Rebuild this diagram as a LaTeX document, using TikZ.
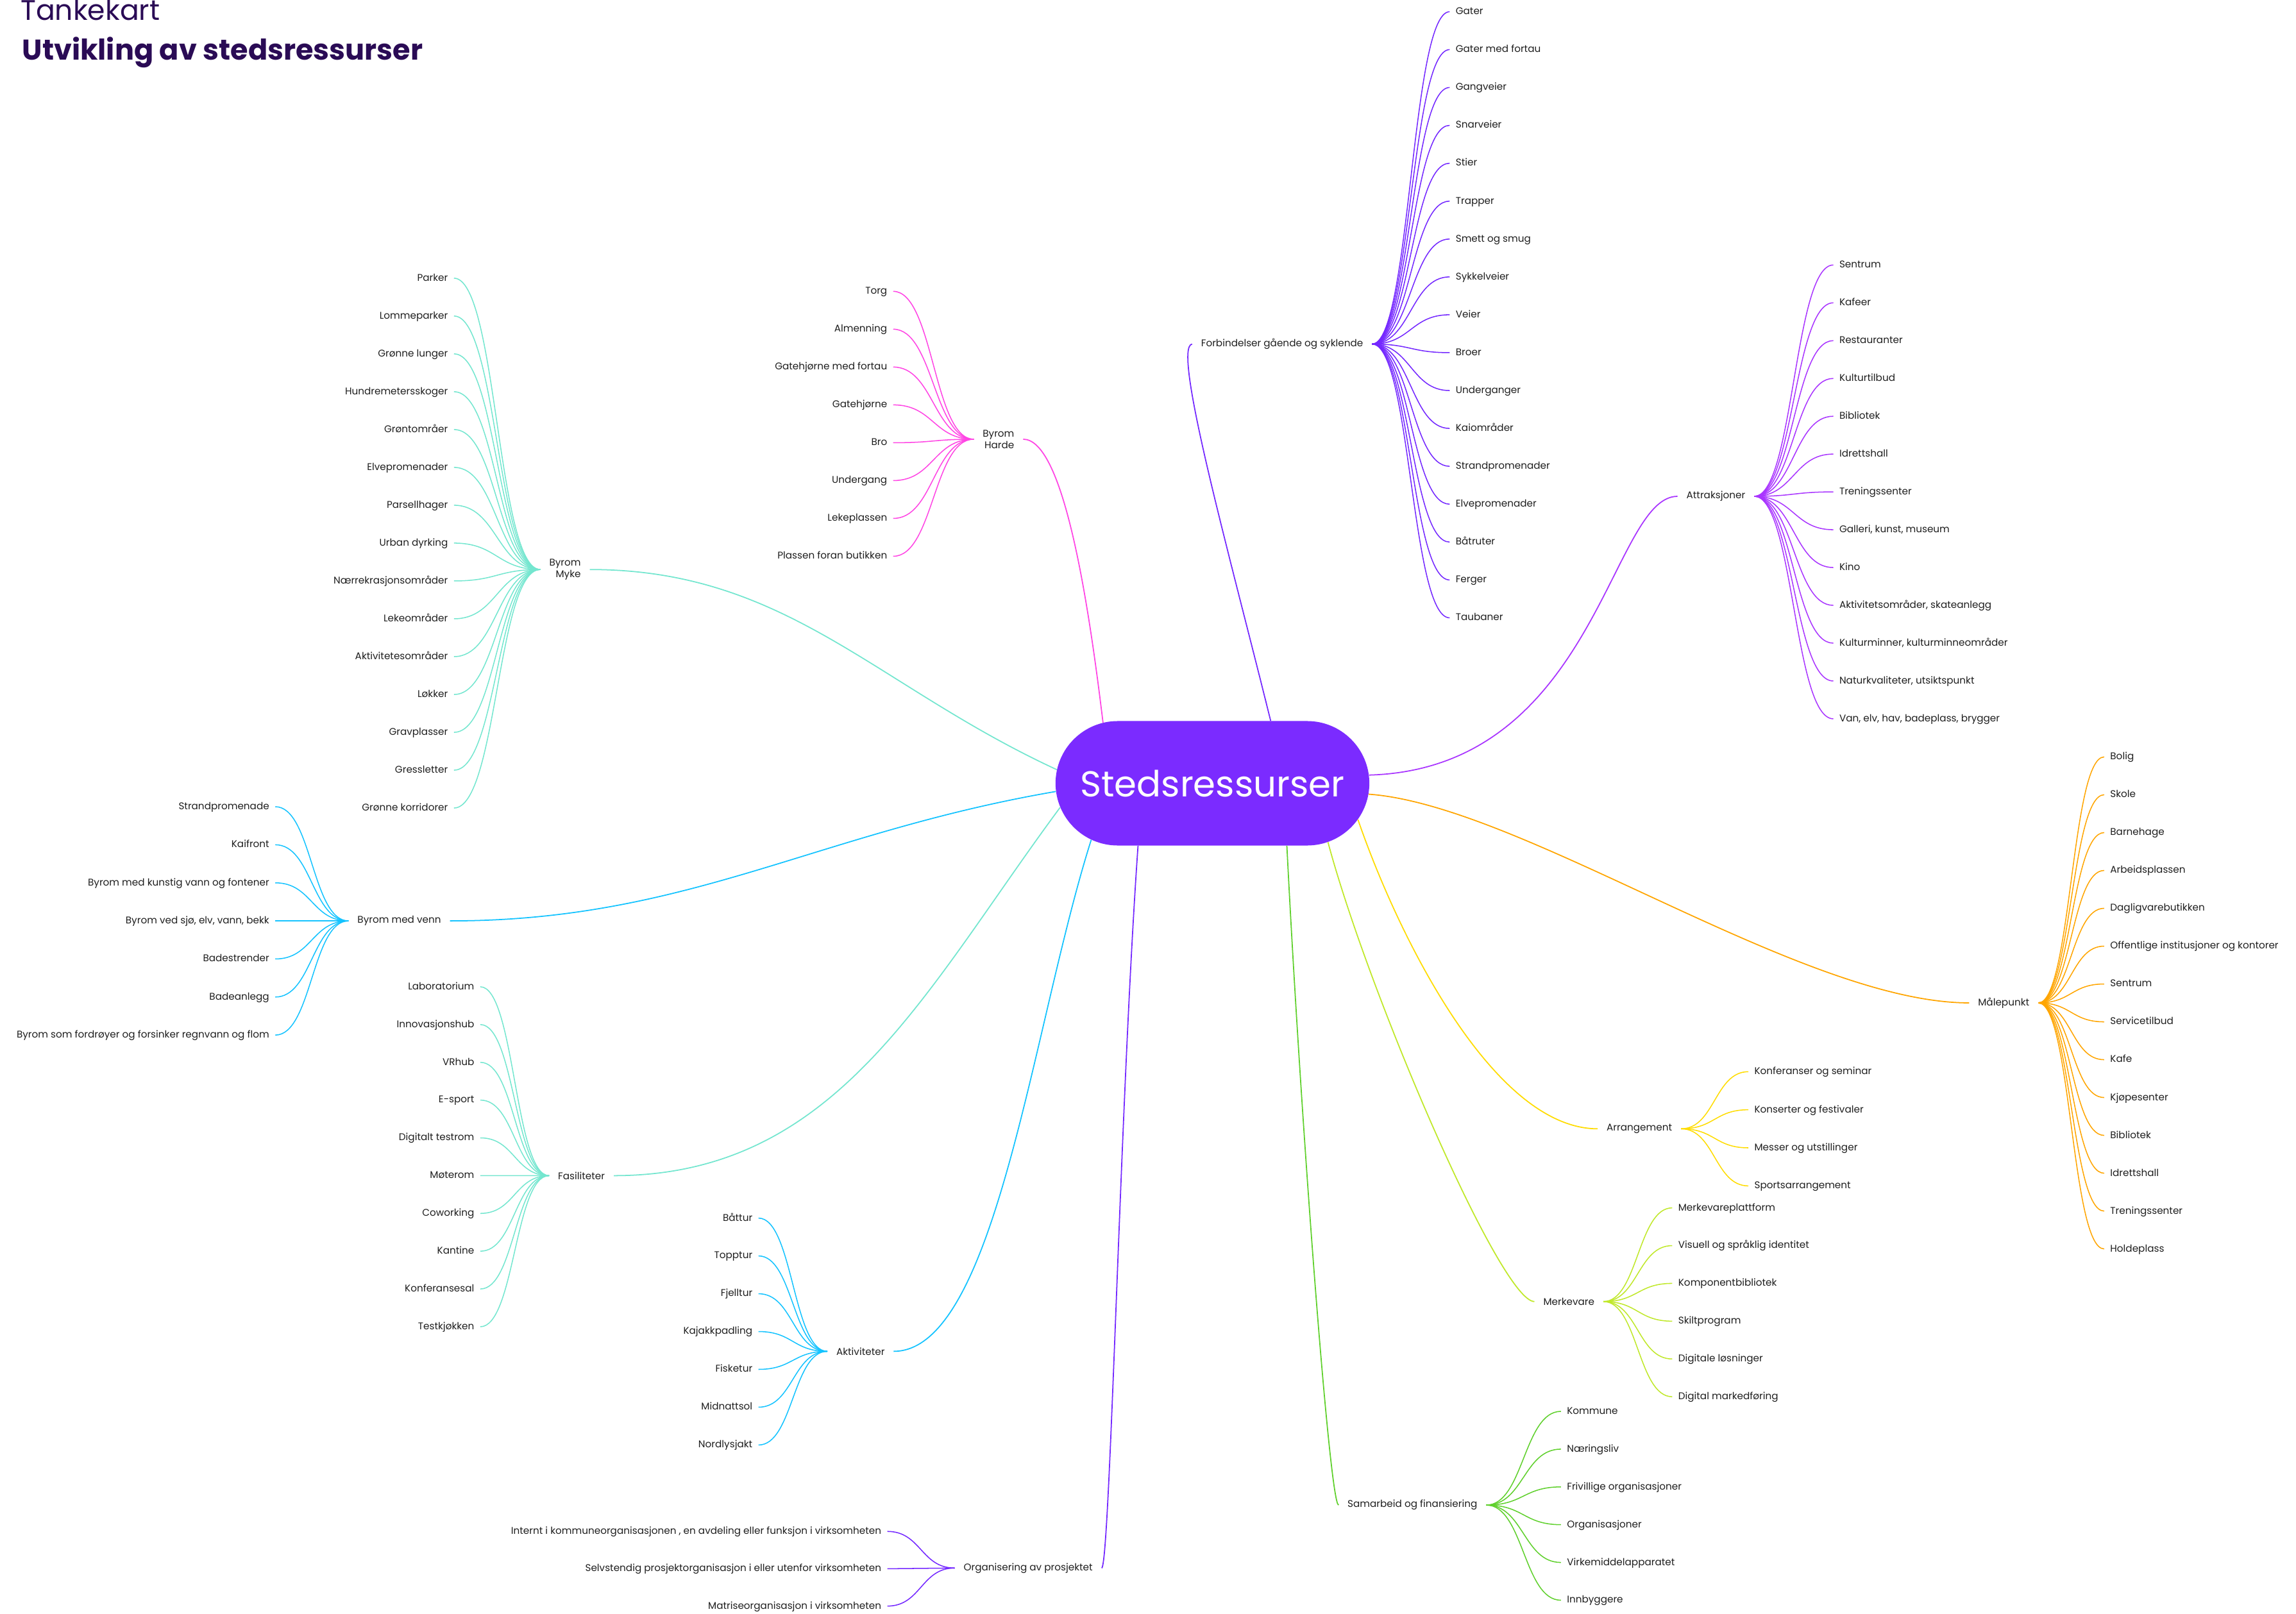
\documentclass[tikz,border=0pt]{standalone}
\usepackage{fontspec}
\setmainfont{Poppins}
\usetikzlibrary{positioning,calc,shapes.misc}
\definecolor{cCore}{HTML}{7B2BFF}
\definecolor{ink}{HTML}{1E1E1E}
\definecolor{titleink}{HTML}{2A0B55}
\definecolor{cMyke}{HTML}{74E6CF}
\definecolor{cHarde}{HTML}{FF45E4}
\definecolor{cForb}{HTML}{7428FF}
\definecolor{cAttr}{HTML}{A935FF}
\definecolor{cMaal}{HTML}{FFA500}
\definecolor{cArr}{HTML}{FFDC00}
\definecolor{cMerke}{HTML}{C0E82A}
\definecolor{cSamar}{HTML}{5FD02C}
\definecolor{cVann}{HTML}{14C3FF}
\tikzset{
  core/.style   = {rounded rectangle, fill=cCore, text=white, minimum width=10.95cm,
                   minimum height=4.25cm, font=\fontsize{35}{40}\selectfont},
  mid/.style    = {font=\fontsize{9.5}{11}\selectfont, text=ink, inner xsep=3mm,
                   inner ysep=1pt, align=center},
  leaf/.style   = {font=\fontsize{9.5}{11}\selectfont, text=ink, inner xsep=2mm,
                   inner ysep=1pt, text height=0.75em, text depth=0.2em},
  branch/.style = {line width=1.1pt},
  twig/.style   = {line width=0.95pt},
  fan/.style    = {to path={let \p1=(\tikztostart), \p2=(\tikztotarget) in
                   .. controls ({0.5*\x1+0.5*\x2},\y1) and ({0.5*\x1+0.5*\x2},\y2) .. (\tikztotarget)}},
  ttl/.style    = {anchor=base west, inner sep=0pt, text=titleink},
}

\begin{document}
\begin{tikzpicture}[x=0.05cm, y=0.05cm]
  \useasboundingbox (0,0) rectangle (1568,-1102);

  % title
  \node[ttl, font=\fontsize{27.5}{32}\selectfont] (kart) at (14,-14) {Tankekart};
  \node[ttl, font=\fontsize{27.8}{32}\selectfont\bfseries] (tema) at (15,-41) {Utvikling av stedsressurser};

  \node[core] (c) at (828,-535) {Stedsressurser};

  % Byrom Myke
  \node[mid, anchor=west, align=right] (myke) at (369,-389) {Byrom\\Myke};
  \foreach \t [count=\i] in {Parker, Lommeparker, Grønne lunger, Hundremetersskoger,
      Grøntområer, Elvepromenader, Parsellhager, Urban dyrking, Nærrekrasjonsområder,
      Lekeområder, Aktivitetesområder, Løkker, Gravplasser, Gressletter, Grønne korridorer}
  {
    \node[leaf, anchor=east] (myke\i) at (310,{-190-25.85*(\i-1)}) {\t};
    \draw[twig, draw=cMyke] (myke.west) to[fan] (myke\i.east);
  }
  \draw[branch, draw=cMyke] (myke.east) .. controls (537,-389) and (597,-468) .. (c.175);

  % Byrom Harde
  \node[mid, anchor=west, align=right] (harde) at (665,-300) {Byrom\\Harde};
  \foreach \t [count=\i] in {Torg, Almenning, Gatehjørne med fortau, Gatehjørne, Bro,
      Undergang, Lekeplassen, Plassen foran butikken}
  {
    \node[leaf, anchor=east] (harde\i) at (610,{-199-25.85*(\i-1)}) {\t};
    \draw[twig, draw=cHarde] (harde.west) to[fan] (harde\i.east);
  }
  \draw[branch, draw=cHarde] (harde.east) .. controls (725,-300) and (742,-400) .. (c.151);

  % Forbindelser
  \node[mid, anchor=east] (forb) at (937,-235) {Forbindelser gående og syklende};
  \foreach \t [count=\i] in {Gater, Gater med fortau, Gangveier, Snarveier, Stier, Trapper,
      Smett og smug, Sykkelveier, Veier, Broer, Underganger, Kaiområder, Strandpromenader,
      Elvepromenader, Båtruter, Ferger, Taubaner}
  {
    \node[leaf, anchor=west] (forb\i) at (990,{-8-25.875*(\i-1)}) {\t};
    \draw[twig, draw=cForb] (forb.east) to[fan] (forb\i.west);
  }
  \draw[branch, draw=cForb] (forb.west) .. controls (800,-237) and (840,-380) .. (c.47);

  % Attraksjoner
  \node[mid, anchor=east] (attr) at (1198,-339) {Attraksjoner};
  \foreach \t [count=\i] in {Sentrum, Kafeer, Restauranter, Kulturtilbud, Bibliotek,
      Idrettshall, Treningssenter, {Galleri, kunst, museum}, Kino,
      {Aktivitetsområder, skateanlegg}, {Kulturminner, kulturminneområder},
      {Naturkvaliteter, utsiktspunkt}, {Van, elv, hav, badeplass, brygger}}
  {
    \node[leaf, anchor=west] (attr\i) at (1252,{-181-25.83*(\i-1)}) {\t};
    \draw[twig, draw=cAttr] (attr.east) to[fan] (attr\i.west);
  }
  \draw[branch, draw=cAttr] (attr.west) .. controls (1100,-339) and (1090,-525) .. (c.3);

  % Maalepunkt
  \node[mid, anchor=east] (maal) at (1392,-685) {Målepunkt};
  \foreach \t [count=\i] in {Bolig, Skole, Barnehage, Arbeidsplassen, Dagligvarebutikken,
      Offentlige institusjoner og kontorer, Sentrum, Servicetilbud, Kafe, Kjøpesenter,
      Bibliotek, Idrettshall, Treningssenter, Holdeplass}
  {
    \node[leaf, anchor=west] (maal\i) at (1437,{-517-25.85*(\i-1)}) {\t};
    \draw[twig, draw=cMaal] (maal.east) to[fan] (maal\i.west);
  }
  \draw[branch, draw=cMaal] (maal.west) .. controls (1230,-685) and (1040,-550) .. (c.356);

  % Arrangement
  \node[mid, anchor=east] (arr) at (1148,-771) {Arrangement};
  \foreach \t [count=\i] in {Konferanser og seminar, Konserter og festivaler,
      Messer og utstillinger, Sportsarrangement}
  {
    \node[leaf, anchor=west] (arr\i) at (1194,{-732-26*(\i-1)}) {\t};
    \draw[twig, draw=cArr] (arr.east) to[fan] (arr\i.west);
  }
  \draw[branch, draw=cArr] (arr.west) .. controls (1020,-771) and (955,-640) .. (c.346);

  % Merkevare
  \node[mid, anchor=east] (merke) at (1095,-889) {Merkevare};
  \foreach \t [count=\i] in {Merkevareplattform, Visuell og språklig identitet,
      Komponentbibliotek, Skiltprogram, Digitale løsninger, Digital markedføring}
  {
    \node[leaf, anchor=west] (merke\i) at (1142,{-825-25.8*(\i-1)}) {\t};
    \draw[twig, draw=cMerke] (merke.east) to[fan] (merke\i.west);
  }
  \draw[branch, draw=cMerke] (merke.west) .. controls (1025,-889) and (935,-680) .. (c.333);

  % Samarbeid og finansiering
  \node[mid, anchor=east] (samar) at (1015,-1028) {Samarbeid og finansiering};
  \foreach \t [count=\i] in {Kommune, Næringsliv, Frivillige organisasjoner,
      Organisasjoner, Virkemiddelapparatet, Innbyggere}
  {
    \node[leaf, anchor=west] (samar\i) at (1066,{-964-25.8*(\i-1)}) {\t};
    \draw[twig, draw=cSamar] (samar.east) to[fan] (samar\i.west);
  }
  \draw[branch, draw=cSamar] (samar.west) .. controls (908,-1028) and (888,-760) .. (c.320);

  % Organisering av prosjektet
  \node[mid, anchor=west] (org) at (652,-1071) {Organisering av prosjektet};
  \foreach \t [count=\i] in {{Internt i kommuneorganisasjonen , en avdeling eller funksjon i virksomheten},
      Selvstendig prosjektorganisasjon i eller utenfor virksomheten,
      Matriseorganisasjon i virksomheten}
  {
    \node[leaf, anchor=east] (org\i) at (606,{-1046-25.5*(\i-1)}) {\t};
    \draw[twig, draw=cForb] (org.west) to[fan] (org\i.east);
  }
  \draw[branch, draw=cForb] (org.east) .. controls (758,-1071) and (765,-750) .. (c.220);

  % Aktiviteter
  \node[mid, anchor=west] (akt) at (565,-923) {Aktiviteter};
  \foreach \t [count=\i] in {Båttur, Topptur, Fjelltur, Kajakkpadling, Fisketur,
      Midnattsol, Nordlysjakt}
  {
    \node[leaf, anchor=east] (akt\i) at (518,{-832-25.83*(\i-1)}) {\t};
    \draw[twig, draw=cVann] (akt.west) to[fan] (akt\i.east);
  }
  \draw[branch, draw=cVann] (akt.east) .. controls (680,-923) and (705,-700) .. (c.205);

  % Fasiliteter
  \node[mid, anchor=west] (fasil) at (375,-803) {Fasiliteter};
  \foreach \t [count=\i] in {Laboratorium, Innovasjonshub, VRhub, E-sport, Digitalt testrom,
      Møterom, Coworking, Kantine, Konferansesal, Testkjøkken}
  {
    \node[leaf, anchor=east] (fasil\i) at (328,{-674-25.8*(\i-1)}) {\t};
    \draw[twig, draw=cMyke] (fasil.west) to[fan] (fasil\i.east);
  }
  \draw[branch, draw=cMyke] (fasil.east) .. controls (572,-803) and (631,-677) .. (c.189);

  % Byrom med venn
  \node[mid, anchor=west] (venn) at (238,-629) {Byrom med venn};
  \foreach \t [count=\i] in {Strandpromenade, Kaifront, Byrom med kunstig vann og fontener,
      {Byrom ved sjø, elv, vann, bekk}, Badestrender, Badeanlegg,
      Byrom som fordrøyer og forsinker regnvann og flom}
  {
    \node[leaf, anchor=east] (venn\i) at (188,{-551-26*(\i-1)}) {\t};
    \draw[twig, draw=cVann] (venn.west) to[fan] (venn\i.east);
  }
  \draw[branch, draw=cVann] (venn.east) .. controls (470,-629) and (556,-569) .. (c.183);
\end{tikzpicture}
\end{document}
